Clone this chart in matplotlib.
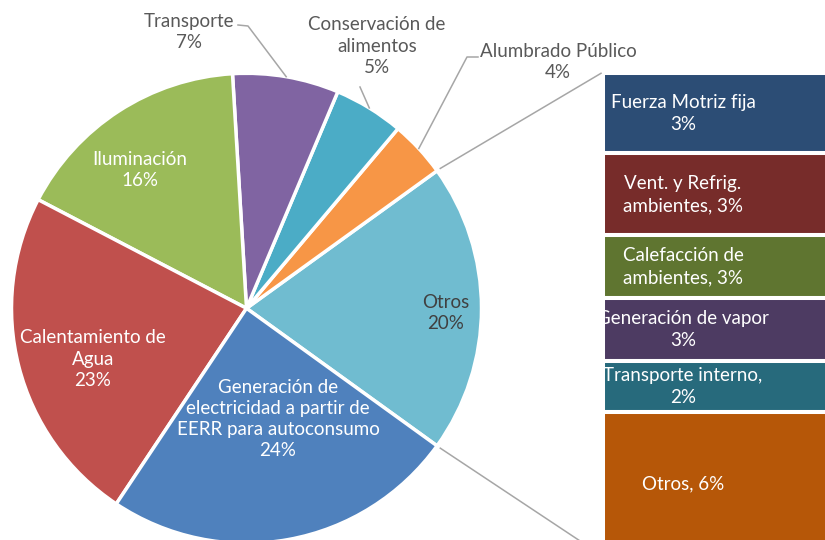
import numpy as np
import matplotlib
matplotlib.use("Agg")
import matplotlib.pyplot as plt

plt.rcParams['font.family'] = ['Lato', 'DejaVu Sans']

# datos del grafico (porcentaje del consumo)
pie_names = ["Otros", "Alumbrado Público", "Conservación de\nalimentos", "Transporte",
             "Iluminación", "Calentamiento de\nAgua",
             "Generación de\nelectricidad a partir de\nEERR para autoconsumo"]
pie_vals = [19.9, 3.9, 4.8, 7.3, 16.4, 23.3, 24.4]
pie_cols = ["#70BCD0", "#F79646", "#4BACC6", "#8064A2", "#9BBB59", "#C0504D", "#4F81BD"]

bar_names = ["Fuerza Motriz fija\n", "Vent. y Refrig.\nambientes, ", "Calefacción de\nambientes, ",
             "Generación de vapor\n", "Transporte interno,\n", "Otros, "]
bar_vals = [3.3, 3.4, 2.6, 2.6, 2.1, 5.9]
bar_cols = ["#2C4D75", "#772C2A", "#5F7530", "#4D3B62", "#276A7C", "#B65708"]

W, H = 825, 540
def P(x, y):
    # coordenadas de pixel -> datos
    return x, H - y

fig = plt.figure(figsize=(8.25, 5.4), dpi=100)
ax = fig.add_axes([0, 0, 1, 1])

cx, cy = P(246.5, 308.3)
R = 235
start = -pie_vals[0] / sum(pie_vals) * 360 / 2
wedges, _ = ax.pie(pie_vals, colors=pie_cols, center=(cx, cy), radius=R, startangle=start,
                   counterclock=True, wedgeprops=dict(edgecolor="white", linewidth=2.5))

# barra de desagregacion de "Otros"
scale = 24.2
bar_left = 603
top = H - 73.3
heights = np.array(bar_vals) * scale
bottoms = top - np.cumsum(heights)
ax.bar(bar_left, heights, bottom=bottoms, width=260, align="edge", color=bar_cols,
       edgecolor="white", linewidth=2.9)

fs = 13.5
grey = "#595959"
lin = "#A6A6A6"

# etiquetas dentro del pastel
inside = {0: (446, 313, "#404040"), 4: (140, 170, "white"), 5: (93, 359, "white"), 6: (278, 419, "white")}
for i, (x, y, c) in inside.items():
    ax.text(*P(x, y), pie_names[i] + "\n" + f"{round(pie_vals[i])}%", ha="center", va="center",
            color=c, fontsize=fs, linespacing=1.3)

# etiquetas fuera con lineas guia
outside = {3: ((189, 32), [(238, 25), (248, 26)]),
           2: ((377, 46), [(360, 87)]),
           1: ((558, 62), [(478, 57), (467, 57)])}
for i, ((x, y), pts) in outside.items():
    ax.text(*P(x, y), pie_names[i] + "\n" + f"{round(pie_vals[i])}%", ha="center", va="center",
            color=grey, fontsize=fs, linespacing=1.3)
    w = wedges[i]
    mid = np.radians((w.theta1 + w.theta2) / 2)
    xs = [p[0] for p in pts] + [cx + R * np.cos(mid)]
    ys = [H - p[1] for p in pts] + [cy + R * np.sin(mid)]
    ax.plot(xs, ys, color=lin, lw=1.1)

# lineas de conexion pastel - barra
w = wedges[0]
for th, yb in [(w.theta2, top), (w.theta1, bottoms[-1])]:
    a = np.radians(th)
    ax.plot([cx + (R + 4) * np.cos(a), bar_left - 2], [cy + (R + 4) * np.sin(a), yb],
            color=lin, lw=1.1)

# etiquetas de la barra
for i in range(len(bar_vals)):
    ax.text(683, bottoms[i] + heights[i] / 2, bar_names[i] + f"{round(bar_vals[i])}%",
            ha="center", va="center", color="white", fontsize=fs, linespacing=1.38)

ax.set_xlim(0, W)
ax.set_ylim(0, H)
ax.set_aspect("equal")
ax.axis("off")

plt.savefig("out.png", dpi=100)
